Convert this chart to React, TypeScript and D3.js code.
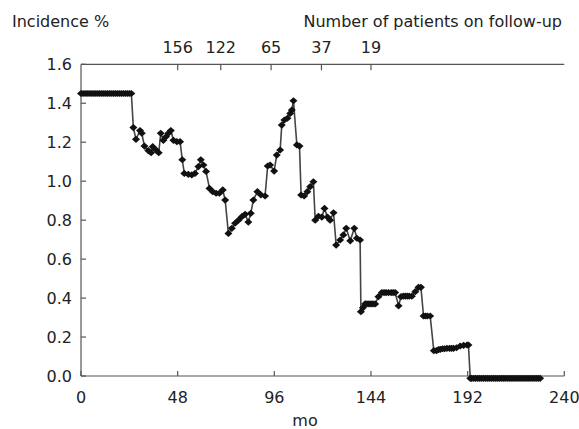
import * as d3 from 'd3';

// curve: month on follow-up vs cumulative incidence (%)
const months = [
  0, 1, 2, 3, 4, 5, 6, 7, 8, 9, 10, 11, 12, 13, 14, 15, 16, 17, 18, 19, 20, 21, 22, 23, 24, 25,
  26, 27.3, 29.3, 30.2, 31.5, 33.4, 34.8, 35.6, 37.3, 38.6, 39.6, 40.9, 42.2, 43.4, 44.6, 45.9,
  47.6, 49.2, 50.3, 51.3, 53.3, 55, 56.6, 58.3, 59.5, 60.8, 62.1, 63.8, 65.4, 67.1, 68.7, 70.4,
  71.6, 73.2, 74.9, 76.5, 78.2, 79.9, 81.5, 83.1, 84.3, 85.6, 87.6, 89.3, 91.4, 92.7, 93.9, 95.9,
  97.2, 98.9, 99.7, 101, 102.5, 103.9, 104.7, 105.5, 107.2, 108.5, 109.3, 110.8, 112.4, 113.8,
  115.4, 116.3, 117.9, 119.6, 120.9, 122.4, 123.7, 125.4, 126.7, 128.7, 130.3, 131.7, 133.7,
  135.7, 137, 138.6, 139, 140, 141.1, 142, 143, 144, 145, 146.1, 147.7, 149.4, 150.5, 151.5,
  152.7, 154, 155, 156, 157.7, 158.9, 160, 161, 162, 163, 164.3, 166, 167.6, 168.8, 170.1, 171,
  172, 173.4, 175.2, 176.5, 177.5, 178.4, 179.5, 180.5, 181.7, 183, 184, 185, 186.5, 188.3, 190,
  191.7, 192.4, 193.3, 194, 195, 196, 197, 198, 199, 200, 201, 202, 203, 204, 205, 206, 207, 208,
  209, 210, 211, 212, 213, 214, 215, 216, 217, 218, 219, 220, 221, 222, 223, 224, 225, 226, 227, 228,
];
const incidence = [
  1.45, 1.45, 1.45, 1.45, 1.45, 1.45, 1.45, 1.45, 1.45, 1.45, 1.45, 1.45, 1.45, 1.45, 1.45, 1.45,
  1.45, 1.45, 1.45, 1.45, 1.45, 1.45, 1.45, 1.45, 1.45, 1.45,
  1.275, 1.215, 1.26, 1.246, 1.18, 1.157, 1.146, 1.177, 1.16, 1.146, 1.246, 1.21, 1.228, 1.246,
  1.26, 1.21, 1.203, 1.203, 1.11, 1.04, 1.035, 1.032, 1.04, 1.075, 1.11, 1.083, 1.05, 0.963,
  0.946, 0.938, 0.938, 0.955, 0.903, 0.732, 0.758, 0.784, 0.8, 0.818, 0.83, 0.79, 0.835, 0.903,
  0.946, 0.93, 0.924, 1.078, 1.083, 1.052, 1.134, 1.16, 1.288, 1.314, 1.323, 1.348, 1.365, 1.413,
  1.186, 1.18, 0.929, 0.924, 0.946, 0.972, 0.997, 0.8, 0.82, 0.816, 0.86, 0.816, 0.8, 0.838,
  0.672, 0.698, 0.724, 0.758, 0.694, 0.758, 0.707, 0.698, 0.33, 0.35, 0.37, 0.37, 0.37, 0.37,
  0.37, 0.37, 0.407, 0.428, 0.428, 0.428, 0.428, 0.428, 0.428, 0.428, 0.36, 0.407, 0.41, 0.41,
  0.41, 0.41, 0.41, 0.433, 0.455, 0.455, 0.308, 0.308, 0.308, 0.308, 0.13, 0.13, 0.135, 0.137,
  0.14, 0.14, 0.142, 0.142, 0.142, 0.142, 0.145, 0.154, 0.157, 0.159, 0.159, -0.012, -0.012,
  -0.012, -0.012, -0.012, -0.012, -0.012, -0.012, -0.012, -0.012, -0.012, -0.012, -0.012, -0.012,
  -0.012, -0.012, -0.012, -0.012, -0.012, -0.012, -0.012, -0.012, -0.012, -0.012, -0.012, -0.012,
  -0.012, -0.012, -0.012, -0.012, -0.012, -0.012, -0.012, -0.012, -0.012, -0.012,
];

const xTicks = [0, 48, 96, 144, 192, 240];
const yTicks = [0, 0.2, 0.4, 0.6, 0.8, 1.0, 1.2, 1.4, 1.6];
// patients still followed, placed on the top axis
const followMonths = [48, 69.4, 94.4, 119.4, 144];
const followCounts = ['156', '122', '65', '37', '19'];

const width = 579;
const height = 429;
const font = '"DejaVu Sans", sans-serif';
const ink = '#222';
const axisColor = '#555';

export default function App() {
  const x = d3.scaleLinear().domain([0, 240]).range([81, 564.3]);
  const y = d3.scaleLinear().domain([0, 1.6]).range([376, 64.3]);

  const points = months.map((m, i) => [m, incidence[i]] as [number, number]);
  const line = d3
    .line<[number, number]>()
    .x((d) => x(d[0]))
    .y((d) => y(d[1]));

  const diamond = 'M0,-3.6L4,0L0,3.6L-4,0Z';

  return (
    <svg
      width={width}
      height={height}
      style={{ position: 'absolute', left: 0, top: 0, background: '#fff' }}
      fontFamily={font}
      fontSize={16}
    >
      <text x={12} y={27} fill={ink}>
        Incidence %
      </text>
      <text x={562} y={27} fill={ink} textAnchor="end">
        Number of patients on follow-up
      </text>

      {/* frame: left, bottom and top axes */}
      <g stroke={axisColor} strokeWidth={1.2} fill="none">
        <line x1={x(0)} x2={x(0)} y1={y(1.6)} y2={y(0)} />
        <line x1={x(0)} x2={x(240)} y1={y(0)} y2={y(0)} />
        <line x1={x(0)} x2={x(240)} y1={y(1.6)} y2={y(1.6)} />
        {yTicks.map((t) => (
          <line key={t} x1={x(0)} x2={x(0) + 5} y1={y(t)} y2={y(t)} />
        ))}
        {xTicks.map((t) => (
          <line key={t} x1={x(t)} x2={x(t)} y1={y(0)} y2={y(0) - 5} />
        ))}
        {followMonths.map((t) => (
          <line key={t} x1={x(t)} x2={x(t)} y1={y(1.6)} y2={y(1.6) + 6} />
        ))}
      </g>

      {yTicks.map((t) => (
        <text key={t} x={72} y={y(t)} dy="0.36em" textAnchor="end" fill={ink}>
          {t.toFixed(1)}
        </text>
      ))}
      {xTicks.map((t) => (
        <text key={t} x={x(t)} y={403} textAnchor="middle" fill={ink}>
          {t}
        </text>
      ))}
      {followMonths.map((t, i) => (
        <text key={t} x={x(t)} y={53} textAnchor="middle" fill={ink}>
          {followCounts[i]}
        </text>
      ))}
      <text x={305} y={426} textAnchor="middle" fill={ink}>
        mo
      </text>

      <path d={line(points) ?? ''} fill="none" stroke="#444" strokeWidth={1.6} />
      <g fill="#111">
        {points.map((p, i) => (
          <path key={i} d={diamond} transform={`translate(${x(p[0])},${y(p[1])})`} />
        ))}
      </g>
    </svg>
  );
}
